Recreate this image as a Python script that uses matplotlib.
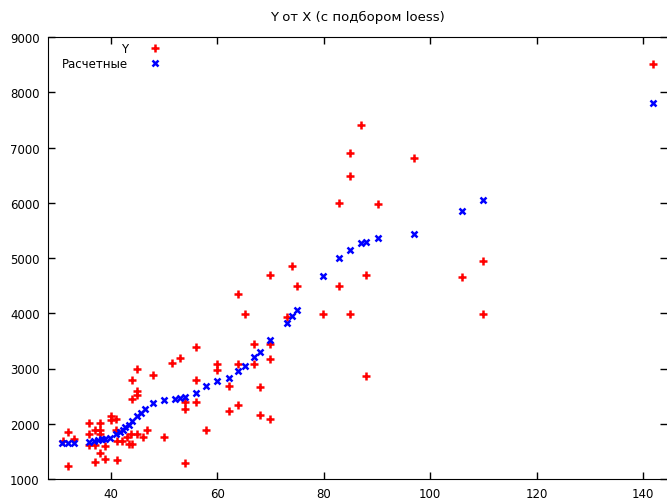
import numpy as np
import matplotlib
matplotlib.use("Agg")
import matplotlib.pyplot as plt

# Наблюдаемые значения Y
x_obs = [32.0, 32.0, 31.0, 33.0, 35.9, 35.9, 35.9, 37.0, 37.0, 37.0,
         37.9, 37.9, 37.9, 37.9, 38.9, 38.9, 40.0, 40.0, 40.9, 40.9,
         41.1, 41.1, 42.0, 43.1, 43.4, 43.7, 44.0, 44.0, 44.0, 44.9,
         44.9, 44.9, 44.9, 46.0, 46.7, 47.9, 50.0, 51.5, 53.0, 53.9,
         53.9, 53.9, 56.0, 56.0, 56.0, 57.9, 60.0, 60.0, 62.1, 62.1,
         63.9, 63.9, 63.9, 65.1, 66.9, 66.9, 68.0, 68.0, 69.9, 69.9,
         69.9, 69.9, 73.0, 74.1, 75.0, 79.9, 82.9, 82.9, 84.9, 84.9,
         84.9, 87.0, 87.9, 87.9, 90.1, 97.0, 106.0, 110.0, 110.0, 141.9]
y_obs = [1850, 1235, 1690, 1720, 2010, 1815, 1615, 1890, 1615, 1310,
         2010, 1890, 1815, 1470, 1590, 1360, 2140, 2070, 2090, 1890,
         1690, 1345, 1690, 1760, 1635, 1815, 2790, 2450, 1635, 2990,
         2600, 2520, 1815, 1760, 1890, 2880, 1760, 3100, 3190, 2270,
         1290, 2390, 3395, 2790, 2390, 1890, 3080, 2980, 2690, 2230,
         4350, 3080, 2340, 3990, 3440, 3080, 2660, 2150, 4690, 3440,
         3170, 2090, 3925, 4850, 4500, 3990, 6000, 4500, 6900, 6490,
         3990, 7410, 4700, 2870, 5985, 6805, 4660, 4950, 3990, 8520]

# Расчетные значения (loess)
x_fit = [30.7, 32.0, 33.0, 35.9, 36.8, 37.6, 38.3, 38.9, 39.8, 40.9,
         41.7, 42.2, 42.6, 43.3, 43.9, 44.9, 45.6, 46.4, 47.9, 50.0,
         52.0, 52.9, 53.9, 56.0, 57.9, 60.0, 62.1, 63.9, 65.1, 66.9,
         68.0, 69.9, 73.0, 74.1, 75.0, 79.9, 82.9, 84.9, 87.0, 87.9,
         90.1, 97.0, 106.0, 110.0, 141.9]
y_fit = [1650, 1650, 1650, 1665, 1680, 1705, 1725, 1725, 1740, 1815,
         1855, 1890, 1935, 1975, 2055, 2135, 2195, 2265, 2375, 2435,
         2450, 2460, 2485, 2555, 2690, 2770, 2830, 2950, 3040, 3215,
         3305, 3520, 3825, 3945, 4060, 4680, 5005, 5145, 5265, 5295,
         5370, 5440, 5850, 6055, 7800]

fs = 8.5
fig = plt.figure(figsize=(6.67, 5.02), dpi=100)
ax = fig.add_axes([48 / 667, 1 - 480 / 502, 1 - 48 / 667, (480 - 38) / 502])

ax.plot(x_obs, y_obs, linestyle='none', marker='+', color='#ff0000',
        markersize=5.5, markeredgewidth=1.8, label='Y')
ax.plot(x_fit, y_fit, linestyle='none', marker='x', color='#0000ff',
        markersize=4.5, markeredgewidth=1.8, label='Расчетные')

ax.set_xlim(28.16, 144.5)
ax.set_ylim(1000, 9000)
ax.set_xticks([40, 60, 80, 100, 120, 140])
ax.set_yticks(np.arange(1000, 9001, 1000))
ax.tick_params(direction='in', length=5, width=1, top=True, right=True,
               labelsize=fs, pad=6)
ax.spines['right'].set_visible(False)

ax.set_title('Y от X (с подбором loess)', fontsize=9.5, pad=12)

leg = ax.legend(loc='upper right', bbox_to_anchor=(161 / 667, 1 - 43 / 502),
                bbox_transform=fig.transFigure, frameon=False, markerfirst=False,
                fontsize=fs, handlelength=1.0, handletextpad=1.8,
                borderpad=0, borderaxespad=0, labelspacing=0.2)

fig.savefig('out.png', dpi=100)
